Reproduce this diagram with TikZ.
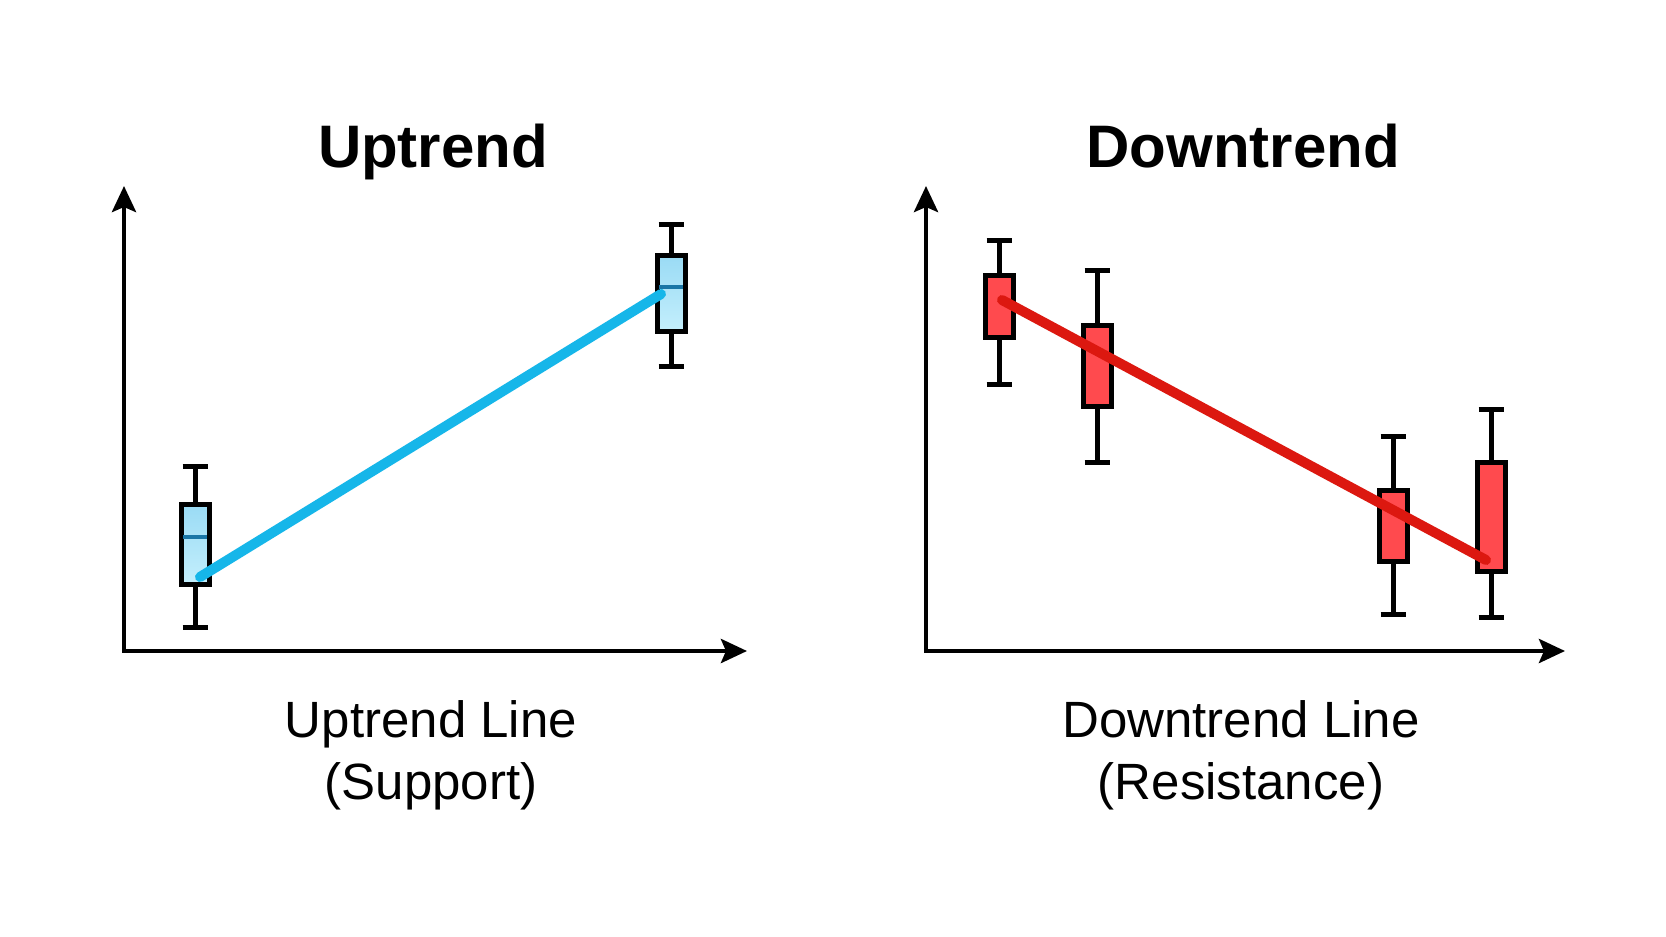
\documentclass[tikz,border=0pt]{standalone}
\usepackage{fontspec}
\setmainfont{Liberation Sans}
\usetikzlibrary{arrows.meta}
\definecolor{bluefillA}{HTML}{9ADBF5}
\definecolor{bluefillB}{HTML}{C4EFFC}
\definecolor{bluemid}{HTML}{1A76A6}
\definecolor{blueline}{HTML}{16B6E9}
\definecolor{redfill}{HTML}{FF4A4E}
\definecolor{redline}{HTML}{DC1810}
\tikzset{
  axisline/.style={line width=4.5pt, line join=miter, {Stealth[length=26pt,width=24pt,inset=5pt]}-{Stealth[length=26pt,width=24pt,inset=5pt]}},
  body/.style={draw=black, line width=5pt, minimum width=28pt, inner sep=0pt, outer sep=0pt},
  bluebody/.style={body, top color=bluefillA, bottom color=bluefillB},
  redbody/.style={body, fill=redfill},
  wick/.style={line width=5pt},
  trend/.style={line width=10pt, line cap=round},
  title/.style={font=\fontsize{60}{72}\selectfont\bfseries, anchor=base},
  caption/.style={font=\fontsize{51}{62}\selectfont, align=center}
}
\newcommand{\mycandle}[7]{%
  % name, x, topcap, bodytop, bodybottom, bottomcap, style
  \pgfmathsetmacro{\bh}{#5-#4-5}
  \pgfmathsetmacro{\bc}{(#4+#5)/2}
  \node[#7, minimum height=\bh pt] (#1) at (#2,\bc) {};
  \coordinate (#1t) at (#2,#3);
  \coordinate (#1b) at (#2,#6);
  \draw[wick] (#1.north) -- (#1t);
  \draw[wick] (#1.south) -- (#1b);
  \draw[wick] ([xshift=-12.5pt]#1t) -- ([xshift=12.5pt]#1t);
  \draw[wick] ([xshift=-12.5pt]#1b) -- ([xshift=12.5pt]#1b);
}
\begin{document}
\begin{tikzpicture}[x=1pt,y=-1pt]
\useasboundingbox[fill=white] (0,0) rectangle (1666,937);

% titles
\node[title] (t1) at (433,167) {Uptrend};
\node[title] (t2) at (1243,167) {Downtrend};

% axes left
\coordinate (ly) at (124,186);
\coordinate (lo) at (124,651);
\coordinate (lx) at (747,651);
\draw[axisline] (ly) -- (lo) -- (lx);

% axes right
\coordinate (ry) at (926,186);
\coordinate (ro) at (926,651);
\coordinate (rx) at (1565,651);
\draw[axisline] (ry) -- (ro) -- (rx);

% blue candles
\mycandle{b1}{195}{466}{502}{587}{627}{bluebody}
\draw[line width=4.5pt, bluemid] ([xshift=-12pt]195,537) -- ([xshift=12pt]195,537);
\mycandle{b2}{671}{224}{253}{334}{366}{bluebody}
\draw[line width=4.5pt, bluemid] ([xshift=-12pt]671,287) -- ([xshift=12pt]671,287);

\coordinate (bs) at (200,577);
\coordinate (be) at (661,294);
\draw[trend, blueline] (bs) -- (be);

% red candles
\mycandle{r1}{999}{240}{273}{340}{384}{redbody}
\mycandle{r2}{1097}{270}{323}{409}{462}{redbody}
\mycandle{r3}{1393}{436}{488}{564}{614}{redbody}
\mycandle{r4}{1491}{409}{460}{574}{617}{redbody}

\coordinate (rs) at (1002,300);
\coordinate (re) at (1486,560);
\draw[trend, redline] (rs) -- (re);

% captions
\node[caption] (c1) at (431,755) {Uptrend Line\\(Support)};
\node[caption] (c2) at (1241,755) {Downtrend Line\\(Resistance)};
\end{tikzpicture}
\end{document}
